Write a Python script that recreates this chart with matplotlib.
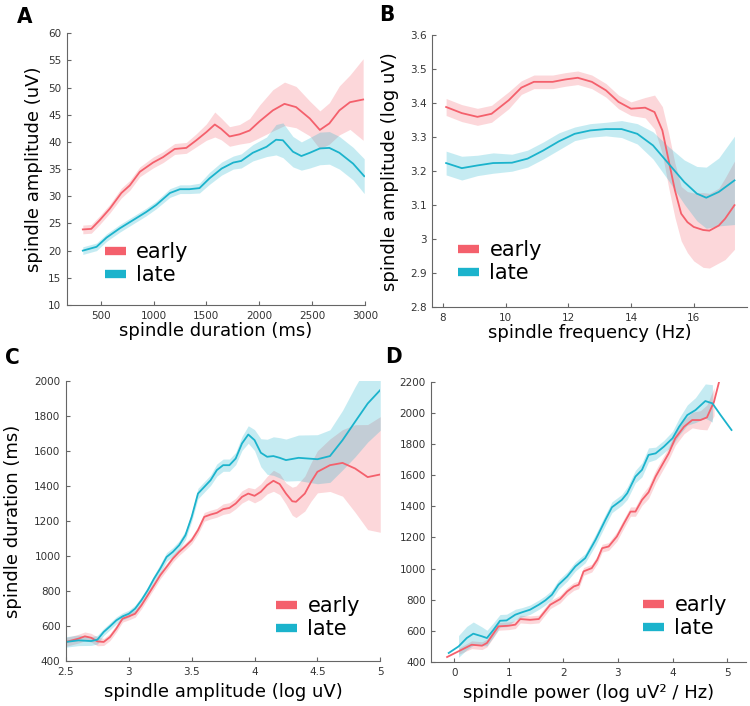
import numpy as np
import matplotlib
matplotlib.use("Agg")
import matplotlib.pyplot as plt
from matplotlib.lines import Line2D

plt.rcParams['font.family'] = ['DejaVu Sans']

red = '#f4606c'
cyan = '#1bb3cc'

# A: amplitude vs duration
a_early_x = [330, 410, 490, 585, 695, 775, 870, 995, 1090, 1200, 1310, 1405, 1500, 1580, 1640, 1720,
             1815, 1910, 2005, 2130, 2240, 2350, 2480, 2575, 2665, 2760, 2860, 2985]
a_early_y = [23.9, 24.0, 25.6, 27.7, 30.6, 32.0, 34.5, 36.2, 37.2, 38.7, 38.9, 40.3, 41.8, 43.2, 42.4, 41.0,
             41.4, 42.1, 43.8, 45.8, 47.0, 46.4, 44.3, 42.2, 43.4, 45.8, 47.3, 47.8]
a_early_e = [0.8, 0.8, 0.8, 0.8, 0.9, 0.9, 0.9, 1.0, 1.0, 1.0, 1.0, 1.2, 1.5, 2.3, 2.0, 1.8,
             1.8, 2.2, 3.0, 3.8, 4.0, 3.8, 3.2, 3.5, 3.8, 4.5, 5.0, 7.5]
a_late_x = [330, 460, 555, 680, 805, 930, 1025, 1155, 1250, 1340, 1435, 1530, 1645, 1755, 1830, 1940,
            2070, 2160, 2225, 2320, 2400, 2480, 2575, 2665, 2760, 2890, 2995]
a_late_y = [20.0, 20.7, 22.4, 24.1, 25.6, 27.1, 28.4, 30.6, 31.3, 31.3, 31.5, 33.3, 35.1, 36.2, 36.5, 38.0,
            39.1, 40.4, 40.3, 38.2, 37.4, 38.0, 38.8, 38.9, 38.0, 36.0, 33.7]
a_late_e = [0.7, 0.7, 0.7, 0.7, 0.7, 0.7, 0.7, 0.8, 0.8, 0.8, 0.9, 1.1, 1.2, 1.2, 1.3, 1.5,
            1.8, 2.8, 3.2, 2.8, 2.6, 2.8, 3.0, 3.0, 3.0, 3.0, 3.2]

# B: amplitude vs frequency
b_early_x = [8.1, 8.6, 9.1, 9.55, 10.1, 10.5, 10.9, 11.5, 11.9, 12.3, 12.75, 13.2, 13.6, 14.0, 14.45, 14.75,
             15.0, 15.2, 15.4, 15.6, 15.8, 16.0, 16.3, 16.5, 16.8, 17.0, 17.3]
b_early_y = [3.389, 3.371, 3.360, 3.369, 3.409, 3.446, 3.463, 3.463, 3.470, 3.475, 3.463, 3.438, 3.404, 3.384,
             3.387, 3.374, 3.32, 3.232, 3.144, 3.075, 3.05, 3.036, 3.027, 3.025, 3.04, 3.06, 3.10]
b_early_e = [0.025, 0.025, 0.025, 0.025, 0.025, 0.02, 0.02, 0.02, 0.02, 0.02, 0.02, 0.02, 0.02, 0.02, 0.03,
             0.05, 0.07, 0.08, 0.08, 0.08, 0.09, 0.1, 0.11, 0.11, 0.11, 0.12, 0.13]
b_late_x = [8.1, 8.6, 9.1, 9.6, 10.2, 10.7, 11.2, 11.7, 12.2, 12.7, 13.2, 13.7, 14.2, 14.7, 15.2, 15.7,
            16.1, 16.4, 16.8, 17.3]
b_late_y = [3.224, 3.209, 3.217, 3.224, 3.225, 3.237, 3.261, 3.288, 3.310, 3.320, 3.324, 3.324, 3.31, 3.276,
            3.222, 3.168, 3.134, 3.122, 3.139, 3.173]
b_late_e = [0.035, 0.035, 0.03, 0.03, 0.025, 0.025, 0.025, 0.025, 0.02, 0.02, 0.02, 0.025, 0.03, 0.04,
            0.05, 0.065, 0.08, 0.09, 0.1, 0.13]

# C: duration vs amplitude
c_early_x = [2.5, 2.6, 2.65, 2.7, 2.75, 2.8, 2.85, 2.9, 2.95, 3.0, 3.05, 3.1, 3.15, 3.2, 3.25, 3.3, 3.35,
             3.4, 3.45, 3.5, 3.55, 3.6, 3.65, 3.7, 3.75, 3.8, 3.85, 3.9, 3.95, 4.0, 4.05, 4.1, 4.15, 4.2,
             4.25, 4.3, 4.33, 4.4, 4.45, 4.5, 4.6, 4.7, 4.8, 4.9, 5.0]
c_early_y = [509, 528, 541, 533, 512, 509, 537, 585, 642, 655, 670, 718, 775, 832, 890, 937, 985,
             1023, 1055, 1090, 1147, 1223, 1236, 1246, 1267, 1274, 1299, 1337, 1356, 1343, 1366, 1404, 1429, 1410,
             1356, 1312, 1309, 1356, 1423, 1480, 1518, 1531, 1499, 1450, 1465]
c_early_e = [25, 25, 25, 25, 25, 20, 20, 20, 20, 20, 20, 20, 20, 20, 20, 20, 20,
             20, 20, 20, 22, 25, 25, 25, 30, 30, 30, 35, 35, 40, 45, 50, 60, 60,
             60, 80, 90, 100, 110, 120, 150, 190, 250, 300, 330]
c_late_x = [2.5, 2.6, 2.7, 2.75, 2.8, 2.85, 2.9, 2.95, 3.0, 3.05, 3.1, 3.15, 3.2, 3.25, 3.3, 3.35, 3.4,
            3.45, 3.5, 3.55, 3.6, 3.65, 3.7, 3.75, 3.8, 3.85, 3.9, 3.95, 4.0, 4.05, 4.1, 4.15, 4.2, 4.25,
            4.35, 4.5, 4.6, 4.7, 4.8, 4.9, 5.0]
c_late_y = [509, 518, 514, 522, 566, 598, 632, 655, 670, 699, 747, 804, 870, 928, 994, 1023, 1061,
            1118, 1223, 1356, 1394, 1432, 1490, 1518, 1518, 1556, 1642, 1693, 1661, 1589, 1566, 1570, 1560, 1547,
            1560, 1552, 1570, 1661, 1766, 1870, 1947]
c_late_e = [30, 30, 25, 25, 20, 20, 20, 20, 20, 20, 20, 20, 20, 25, 25, 25, 25,
            25, 25, 30, 30, 30, 35, 35, 35, 35, 40, 50, 60, 80, 100, 110, 115, 120,
            130, 140, 150, 170, 200, 220, 230]

# D: duration vs power
d_early_x = [-0.13, 0.08, 0.32, 0.51, 0.6, 0.81, 1.0, 1.12, 1.21, 1.39, 1.55, 1.76, 1.94, 2.07, 2.19, 2.28,
             2.37, 2.52, 2.62, 2.71, 2.83, 2.98, 3.11, 3.23, 3.32, 3.44, 3.56, 3.69, 3.81, 3.93, 4.05, 4.21,
             4.36, 4.51, 4.63, 4.76, 4.86]
d_early_y = [432, 469, 511, 505, 522, 629, 633, 640, 676, 671, 676, 768, 804, 853, 885, 896,
             982, 1003, 1056, 1131, 1142, 1206, 1291, 1366, 1366, 1441, 1490, 1591, 1666, 1740, 1837, 1911,
             1954, 1954, 1971, 2072, 2210]
d_early_e = [15, 20, 25, 25, 25, 25, 25, 25, 25, 25, 25, 25, 25, 25, 25, 25,
             25, 25, 25, 25, 25, 30, 30, 30, 30, 35, 40, 40, 40, 40, 45, 45,
             50, 60, 80, 90, 100]
d_late_x = [-0.1, 0.08, 0.23, 0.35, 0.51, 0.6, 0.72, 0.84, 0.96, 1.12, 1.24, 1.39, 1.55, 1.67, 1.79, 1.91,
            2.07, 2.22, 2.4, 2.59, 2.77, 2.89, 3.07, 3.17, 3.32, 3.44, 3.56, 3.69, 3.84, 4.0, 4.12, 4.27,
            4.42, 4.6, 4.73, 4.88, 5.08]
d_late_y = [458, 500, 554, 582, 565, 554, 607, 665, 667, 704, 719, 736, 768, 796, 832, 896,
            949, 1014, 1067, 1185, 1313, 1394, 1441, 1484, 1591, 1634, 1730, 1740, 1783, 1837, 1911, 1986,
            2018, 2076, 2061, 1986, 1890]
d_late_e = [0, 70, 75, 75, 60, 50, 45, 40, 40, 35, 30, 30, 30, 30, 30, 30,
            30, 30, 30, 35, 35, 35, 35, 40, 40, 45, 45, 40, 40, 45, 55, 65,
            80, 110, 120, 0, 0]

fig = plt.figure(figsize=(7.5, 7.06), dpi=100)

def panel(rect, series, xlim, ylim, xticks, yticks, xlabel, ylabel, leg_xy, band_lim=None):
    ax = fig.add_axes(rect)
    for x, y, e, c in series:
        x = np.array(x); y = np.array(y); e = np.array(e)
        m = np.ones(len(x), bool)
        if band_lim is not None:
            m = (x >= band_lim[0]) & (x <= band_lim[1])
        ax.fill_between(x, y - e, y + e, where=m, color=c, alpha=0.25, lw=0)
        ax.plot(x, y, color=c, lw=1.3)
    ax.set_xlim(xlim)
    ax.set_ylim(ylim)
    ax.set_xticks(xticks)
    ax.set_yticks(yticks)
    ax.set_xticklabels([('%g' % t) for t in xticks])
    ax.set_yticklabels([('%g' % t) for t in yticks])
    for s in ['top', 'right']:
        ax.spines[s].set_visible(False)
    for s in ['left', 'bottom']:
        ax.spines[s].set_color('#666666')
        ax.spines[s].set_linewidth(0.8)
    ax.tick_params(direction='in', length=3, width=0.8, color='#666666',
                   labelsize=7.5, labelcolor='#333333', pad=4)
    ax.set_xlabel(xlabel, fontsize=13)
    ax.xaxis.set_label_coords(0.5, -0.062)
    if ylabel:
        ax.set_ylabel(ylabel, fontsize=13)
    handles = [Line2D([], [], color=red, lw=6, solid_capstyle='butt'),
               Line2D([], [], color=cyan, lw=6, solid_capstyle='butt')]
    ax.legend(handles, ['early', 'late'], loc='center left', bbox_to_anchor=leg_xy,
              frameon=False, fontsize=15, handlelength=1.0, handletextpad=0.5,
              labelspacing=0.15, borderpad=0, borderaxespad=0)
    return ax

axA = panel([0.0893, 0.568, 0.397, 0.385],
            [(a_early_x, a_early_y, a_early_e, red), (a_late_x, a_late_y, a_late_e, cyan)],
            (180, 3000), (10, 60), [500, 1000, 1500, 2000, 2500, 3000], np.arange(10, 61, 5),
            'spindle duration (ms)', 'spindle amplitude (uV)', (0.128, 0.153))
axA.yaxis.set_label_coords(-0.08, 0.5)

axB = panel([0.576, 0.565, 0.42, 0.385],
            [(b_early_x, b_early_y, b_early_e, red), (b_late_x, b_late_y, b_late_e, cyan)],
            (7.65, 17.7), (2.8, 3.6), [8, 10, 12, 14, 16], np.round(np.arange(2.8, 3.61, 0.1), 1),
            'spindle frequency (Hz)', 'spindle amplitude (log uV)', (0.083, 0.167))
axB.yaxis.set_label_coords(-0.105, 0.5)

axC = panel([0.088, 0.0637, 0.419, 0.397],
            [(c_early_x, c_early_y, c_early_e, red), (c_late_x, c_late_y, c_late_e, cyan)],
            (2.5, 5), (400, 2000), [2.5, 3, 3.5, 4, 4.5, 5], np.arange(400, 2001, 200),
            'spindle amplitude (log uV)', 'spindle duration (ms)', (0.669, 0.154))
axC.yaxis.set_label_coords(-0.14, 0.5)
axC.xaxis.set_label_coords(0.5, -0.079)

axD = panel([0.575, 0.0623, 0.42, 0.397],
            [(d_early_x, d_early_y, d_early_e, red), (d_late_x, d_late_y, d_late_e, cyan)],
            (-0.42, 5.35), (400, 2200), [0, 1, 2, 3, 4, 5], np.arange(400, 2201, 200),
            'spindle power (log uV² / Hz)', None, (0.673, 0.161), band_lim=(0.05, 4.76))
axD.xaxis.set_label_coords(0.5, -0.079)

for lab, x, y in [('A', 0.033, 0.976), ('B', 0.516, 0.979), ('C', 0.016, 0.493), ('D', 0.524, 0.494)]:
    fig.text(x, y, lab, fontsize=16, fontweight='heavy', fontstretch='condensed',
             ha='center', va='center')

fig.savefig('out.png', dpi=100)
